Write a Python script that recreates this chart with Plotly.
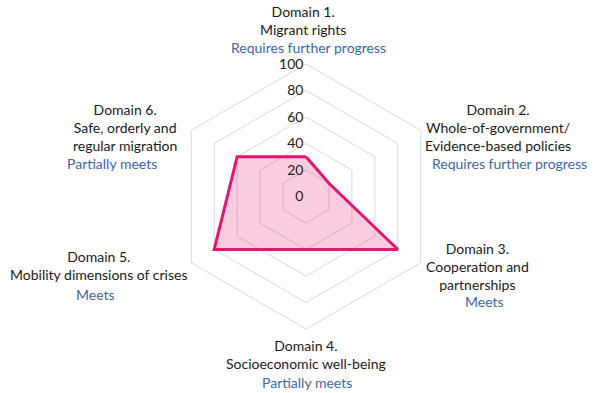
import plotly.graph_objects as go

domains = [
    "Domain 1.<br>Migrant rights",
    "Domain 2.<br>Whole-of-government/<br>Evidence-based policies",
    "Domain 3.<br>Cooperation and<br>partnerships",
    "Domain 4.<br>Socioeconomic well-being",
    "Domain 5.<br>Mobility dimensions of crises",
    "Domain 6.<br>Safe, orderly and<br>regular migration",
]
scores = [30, 20, 80, 40, 80, 60]
statuses = [
    "Requires further progress",
    "Requires further progress",
    "Meets",
    "Partially meets",
    "Meets",
    "Partially meets",
]
radial_ticks = [0, 20, 40, 60, 80, 100]

_LINE = "#e3176e"
_FILL = "rgba(227, 23, 110, 0.22)"
_GRID = "#d9d9d9"
_TEXT = "#1a1a1a"
_BLUE = "#4066ad"
_FONT = "Lato"

W, H = 598, 393
CX, CY, R = 306, 196.5, 132.5

# ラベル位置 (px, 上から): 名称ブロックの中心, ステータス行の中心
label_pos = [(303, 21), (498, 127), (477, 266), (306, 354), (98, 265), (125, 127)]
status_pos = [(308, 47), (509, 163), (484, 301), (307, 382), (95, 294), (112, 164)]

fig = go.Figure(
    go.Scatterpolar(
        r=scores + scores[:1],
        theta=domains + domains[:1],
        mode="lines",
        fill="toself",
        fillcolor=_FILL,
        line=dict(color=_LINE, width=3),
        hoverinfo="skip",
    )
)

annotations = []
for (x, y), text in zip(label_pos, domains):
    annotations.append(
        dict(
            x=x / W, y=1 - y / H, xref="paper", yref="paper",
            text=text, showarrow=False, align="center",
            xanchor="center", yanchor="middle",
            font=dict(family=_FONT, size=14, color=_TEXT),
        )
    )
for (x, y), text in zip(status_pos, statuses):
    annotations.append(
        dict(
            x=x / W, y=1 - y / H, xref="paper", yref="paper",
            text=text, showarrow=False,
            xanchor="center", yanchor="middle",
            font=dict(family=_FONT, size=14, color=_BLUE),
        )
    )

fig.update_layout(
    width=W,
    height=H,
    margin=dict(l=0, r=0, t=0, b=0),
    paper_bgcolor="white",
    showlegend=False,
    font=dict(family=_FONT, size=14, color=_TEXT),
    polar=dict(
        domain=dict(x=[(CX - R) / W, (CX + R) / W], y=[(H - CY - R) / H, (H - CY + R) / H]),
        bgcolor="white",
        gridshape="linear",
        radialaxis=dict(
            range=[0, 100],
            tickvals=radial_ticks,
            # 目盛ラベルを軸の左へずらすための透明な余白
            ticksuffix='<span style="color:rgba(0,0,0,0)">0.</span>',
            angle=90,
            tickangle=90,
            side="counterclockwise",
            showline=False,
            ticks="",
            gridcolor=_GRID,
            gridwidth=1,
            tickfont=dict(family=_FONT, size=14, color=_TEXT),
        ),
        angularaxis=dict(
            rotation=90,
            direction="clockwise",
            showticklabels=False,
            ticks="",
            showgrid=False,
            showline=True,
            linecolor=_GRID,
            linewidth=1,
        ),
    ),
    annotations=annotations,
)

fig.write_html(
    "out.html",
    config={"displayModeBar": False},
    post_script="document.body.style.margin='0';",
)
